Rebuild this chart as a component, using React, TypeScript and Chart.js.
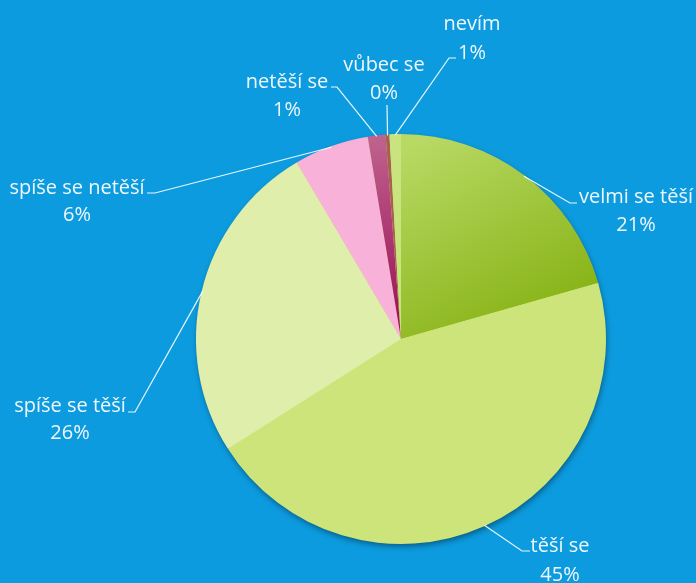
import React, { useEffect, useRef } from "react";
import { Chart, registerables } from "chart.js";

Chart.register(...registerables);

const categories = ["velmi se těší", "těší se", "spíše se těší", "spíše se netěší", "netěší se", "vůbec se", "nevím"];
const values = [20.6, 45.4, 25.5, 5.9, 1.4, 0.3, 0.9];
const percentLabels = ["21%", "45%", "26%", "6%", "1%", "0%", "1%"];

// label layout: text center x, line1 y, line2 y, elbow x/y, tail x
const labelLayout = [
  { x: 636, y1: 197, y2: 225, ex: 570, ey: 203, tx: 577 },
  { x: 560, y1: 546, y2: 575, ex: 522, ey: 551, tx: 530 },
  { x: 70, y1: 406, y2: 433, ex: 135, ey: 412, tx: 128 },
  { x: 77, y1: 188, y2: 215, ex: 155, ey: 193, tx: 147 },
  { x: 287, y1: 82, y2: 110, ex: 337, ey: 87, tx: 331 },
  { x: 384, y1: 65, y2: 93, ex: 387, ey: 105, tx: 387 },
  { x: 472, y1: 24, y2: 53, ex: 449, ey: 58, tx: 456 },
];

const BG = "#0C9BDF";
const FONT = "'Open Sans', sans-serif";

const shadowPlugin = {
  id: "pieShadow",
  beforeDatasetsDraw(chart: any) {
    const arc = chart.getDatasetMeta(0).data[0];
    if (!arc) return;
    const ctx = chart.ctx;
    ctx.save();
    ctx.shadowColor = "rgba(0,0,0,0.45)";
    ctx.shadowBlur = 6;
    ctx.shadowOffsetX = 1;
    ctx.shadowOffsetY = 3;
    ctx.fillStyle = "#cde47a";
    ctx.beginPath();
    ctx.arc(arc.x, arc.y, arc.outerRadius - 1, 0, Math.PI * 2);
    ctx.fill();
    ctx.restore();
  },
};

const labelPlugin = {
  id: "leaderLabels",
  afterDatasetsDraw(chart: any) {
    const ctx = chart.ctx;
    const meta = chart.getDatasetMeta(0);
    ctx.save();
    meta.data.forEach((arc: any, i: number) => {
      const L = labelLayout[i];
      const mid = (arc.startAngle + arc.endAngle) / 2;
      const px = arc.x + Math.cos(mid) * (arc.outerRadius - 1);
      const py = arc.y + Math.sin(mid) * (arc.outerRadius - 1);
      ctx.strokeStyle = "rgba(255,255,255,0.9)";
      ctx.lineWidth = 1.2;
      ctx.beginPath();
      ctx.moveTo(px, py);
      ctx.lineTo(L.ex, L.ey);
      ctx.lineTo(L.tx, L.ey);
      ctx.stroke();
      ctx.fillStyle = "#EEF7FC";
      ctx.font = `20px ${FONT}`;
      ctx.textAlign = "center";
      ctx.textBaseline = "middle";
      ctx.fillText(categories[i], L.x, L.y1);
      ctx.fillText(percentLabels[i], L.x, L.y2);
    });
    ctx.restore();
  },
};

export default function App() {
  const ref = useRef<HTMLCanvasElement>(null);
  useEffect(() => {
    const canvas = ref.current!;
    const colorFor = (c: any) => {
      const i = c.dataIndex;
      const ctx = c.chart.ctx;
      if (i === 0) {
        const g = ctx.createLinearGradient(430, 134, 540, 340);
        g.addColorStop(0, "#B8D964");
        g.addColorStop(1, "#84B010");
        return g;
      }
      if (i === 4) {
        const g = ctx.createLinearGradient(376, 134, 400, 339);
        g.addColorStop(0, "#C0648F");
        g.addColorStop(1, "#980A55");
        return g;
      }
      return ["", "#CDE47A", "#DFEEAA", "#F8B2D9", "", "#A6614F", "#C9E47E"][i];
    };
    const chart = new Chart(canvas, {
      type: "pie",
      data: {
        labels: categories,
        datasets: [
          {
            data: values,
            backgroundColor: colorFor as any,
            borderWidth: 0,
          },
        ],
      },
      options: {
        responsive: false,
        animation: false,
        rotation: 0,
        layout: { padding: { left: 196, right: 90, top: 134, bottom: 39 } },
        plugins: {
          legend: { display: false },
          tooltip: { enabled: false },
        },
      },
      plugins: [shadowPlugin, labelPlugin],
    });
    return () => chart.destroy();
  }, []);
  return (
    <div style={{ position: "fixed", left: 0, top: 0, width: 696, height: 583, background: BG }}>
      <canvas ref={ref} width={696} height={583} style={{ display: "block", background: BG }} />
    </div>
  );
}
